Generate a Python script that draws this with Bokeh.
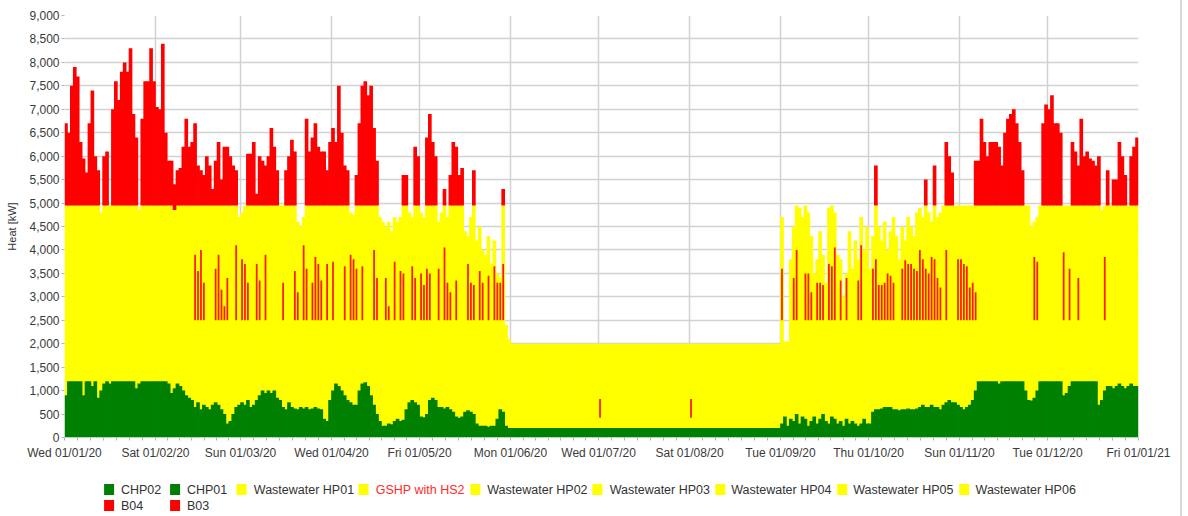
import numpy as np
import pandas as pd
from bokeh.plotting import figure
from bokeh.layouts import column
from bokeh.models import (ColumnDataSource, Range1d, FixedTicker, SingleIntervalTicker,
                          NumeralTickFormatter, DatetimeTickFormatter)
from bokeh.core.properties import value
from bokeh.embed import file_html
from bokeh.resources import INLINE

YEAR_START = "2020-01-01"
YEAR_END = "2021-01-01"

# ---- daily stacked levels (kW), one value per day of 2020 ----
# top of CHP02 + CHP01 (green)
chp_total = [
    900, 1200, 1200, 1200, 1200, 1200, 900, 1200, 1200, 1100, 1200, 850, 1000, 1150, 1200, 1150, 1200, 1200, 1200, 1200, 1200, 1200, 1200, 1200, 1050, 1150, 1200, 1200, 1200, 1200, 1200,
    1200, 1200, 1200, 1200, 1150, 950, 1050, 1150, 1100, 1000, 900, 850, 800, 650, 750, 600, 700, 650, 600, 700, 750, 700, 600, 500, 300, 350, 500, 650, 700,
    750, 700, 800, 650, 700, 800, 900, 1000, 950, 1000, 950, 1000, 850, 800, 650, 600, 750, 650, 620, 600, 650, 620, 650, 600, 620, 650, 620, 600, 400, 350, 800,
    1000, 1150, 1100, 1000, 900, 800, 750, 700, 700, 1000, 1150, 1180, 1100, 900, 700, 500, 350, 250, 250, 300, 280, 350, 400, 350, 380, 600, 750, 800, 750, 700,
    450, 430, 500, 800, 850, 800, 650, 650, 620, 650, 600, 550, 450, 420, 450, 550, 580, 550, 500, 300, 250, 250, 250, 230, 250, 250, 400, 600, 550, 250, 200,
    200, 200, 200, 200, 200, 200, 200, 200, 200, 200, 200, 200, 200, 200, 200, 200, 200, 200, 200, 200, 200, 200, 200, 200, 200, 200, 200, 200, 200, 200,
    200, 200, 200, 200, 200, 200, 200, 200, 200, 200, 200, 200, 200, 200, 200, 200, 200, 200, 200, 200, 200, 200, 200, 200, 200, 200, 200, 200, 200, 200, 200,
    200, 200, 200, 200, 200, 200, 200, 200, 200, 200, 200, 200, 200, 200, 200, 200, 200, 200, 200, 200, 200, 200, 200, 200, 200, 200, 200, 200, 200, 200, 200,
    300, 450, 250, 400, 350, 500, 300, 450, 400, 250, 350, 450, 300, 400, 500, 350, 300, 450, 400, 300, 350, 250, 400, 300, 350, 300, 250, 300, 400, 300,
    300, 550, 600, 600, 620, 650, 650, 650, 600, 600, 580, 600, 600, 620, 600, 600, 620, 650, 700, 650, 650, 700, 650, 650, 600, 700, 750, 800, 750, 750, 700,
    650, 600, 650, 700, 800, 1000, 1200, 1200, 1200, 1200, 1200, 1200, 1200, 1150, 1200, 1200, 1200, 1200, 1200, 1200, 1200, 1200, 1000, 800, 790, 850, 1000, 1200, 1200, 1200,
    1200, 1200, 1200, 1200, 1200, 900, 950, 1100, 1200, 1200, 1200, 1200, 1200, 1200, 1200, 1200, 1200, 700, 800, 1000, 1100, 1100, 1050, 1100, 1150, 1100, 1050, 1100, 1150, 1100, 1100,
]

# top of Wastewater HP01 (lower yellow band)
hp01_top = [
    2500, 2500, 2500, 2500, 2500, 2500, 2500, 2500, 2500, 2500, 2500, 2500, 2500, 2500, 2500, 2500, 2500, 2500, 2500, 2500, 2500, 2500, 2500, 2500, 2500, 2500, 2500, 2500, 2500, 2500, 2500,
    2500, 2500, 2500, 2500, 2500, 2500, 2500, 2500, 2500, 2500, 2500, 2500, 2500, 2500, 2500, 2500, 2500, 2500, 2500, 2500, 2500, 2500, 2500, 2500, 2500, 2500, 2500, 2500, 2500,
    2500, 2500, 2500, 2500, 2500, 2500, 2500, 2500, 2500, 2500, 2500, 2500, 2500, 2500, 2500, 2500, 2500, 2500, 2500, 2500, 2500, 2500, 2500, 2500, 2500, 2500, 2500, 2500, 2500, 2500, 2500,
    2500, 2500, 2500, 2500, 2500, 2500, 2500, 2500, 2500, 2500, 2500, 2500, 2500, 2500, 2500, 2500, 2500, 2500, 2500, 2500, 2500, 2500, 2500, 2500, 2500, 2500, 2500, 2500, 2500, 2500,
    2500, 2500, 2500, 2500, 2500, 2500, 2500, 2500, 2500, 2500, 2500, 2500, 2500, 2500, 2500, 2500, 2500, 2500, 2500, 2500, 2500, 2500, 2500, 2500, 2500, 2500, 2500, 2500, 2500, 2400, 2100,
    2000, 2000, 2000, 2000, 2000, 2000, 2000, 2000, 2000, 2000, 2000, 2000, 2000, 2000, 2000, 2000, 2000, 2000, 2000, 2000, 2000, 2000, 2000, 2000, 2000, 2000, 2000, 2000, 2000, 2000,
    420, 2000, 2000, 2000, 2000, 2000, 2000, 2000, 2000, 2000, 2000, 2000, 2000, 2000, 2000, 2000, 2000, 2000, 2000, 2000, 2000, 2000, 2000, 2000, 2000, 2000, 2000, 2000, 2000, 2000, 2000,
    420, 2000, 2000, 2000, 2000, 2000, 2000, 2000, 2000, 2000, 2000, 2000, 2000, 2000, 2000, 2000, 2000, 2000, 2000, 2000, 2000, 2000, 2000, 2000, 2000, 2000, 2000, 2000, 2000, 2000, 2000,
    2500, 2050, 2050, 2500, 2500, 2500, 2500, 2500, 2500, 2500, 2500, 2500, 2500, 2500, 2500, 2500, 2500, 2500, 2500, 2500, 2500, 2500, 2500, 2500, 2500, 2500, 2500, 2500, 2500, 2500,
    2500, 2500, 2500, 2500, 2500, 2500, 2500, 2500, 2500, 2500, 2500, 2500, 2500, 2500, 2500, 2500, 2500, 2500, 2500, 2500, 2500, 2500, 2500, 2500, 2500, 2500, 2500, 2500, 2500, 2500, 2500,
    2500, 2500, 2500, 2500, 2500, 2500, 2500, 2500, 2500, 2500, 2500, 2500, 2500, 2500, 2500, 2500, 2500, 2500, 2500, 2500, 2500, 2500, 2500, 2500, 2500, 2500, 2500, 2500, 2500, 2500,
    2500, 2500, 2500, 2500, 2500, 2500, 2500, 2500, 2500, 2500, 2500, 2500, 2500, 2500, 2500, 2500, 2500, 2500, 2500, 2500, 2500, 2500, 2500, 2500, 2500, 2500, 2500, 2500, 2500, 2500, 2500,
]

# top of GSHP with HS2 (red band inside the yellow); 0 = not running that day
gshp_top = [
    0, 0, 0, 0, 0, 0, 0, 0, 0, 0, 0, 0, 0, 0, 0, 0, 0, 0, 0, 0, 0, 0, 0, 0, 0, 0, 0, 0, 0, 0, 0,
    0, 0, 0, 0, 0, 0, 0, 0, 0, 0, 0, 0, 0, 3900, 3550, 4000, 3300, 0, 0, 0, 3600, 3900, 3150, 2800, 3400, 0, 0, 4100, 0,
    3800, 3700, 3300, 0, 0, 3700, 3350, 0, 3900, 0, 0, 0, 0, 0, 3300, 0, 0, 0, 3550, 3100, 0, 4100, 3600, 0, 3300, 3850, 3700, 3350, 0, 3700, 0,
    3750, 0, 0, 0, 3650, 0, 3900, 3800, 3600, 0, 3650, 0, 0, 0, 4000, 3400, 0, 0, 3400, 2800, 0, 3750, 0, 3550, 3500, 0, 0, 3650, 3400, 0,
    3500, 3250, 3600, 3500, 0, 0, 3600, 0, 4050, 3300, 3100, 0, 3350, 0, 0, 0, 3700, 3300, 3250, 0, 3550, 3300, 0, 3450, 0, 3650, 3300, 3300, 3700, 0, 0,
    0, 0, 0, 0, 0, 0, 0, 0, 0, 0, 0, 0, 0, 0, 0, 0, 0, 0, 0, 0, 0, 0, 0, 0, 0, 0, 0, 0, 0, 0,
    820, 0, 0, 0, 0, 0, 0, 0, 0, 0, 0, 0, 0, 0, 0, 0, 0, 0, 0, 0, 0, 0, 0, 0, 0, 0, 0, 0, 0, 0, 0,
    820, 0, 0, 0, 0, 0, 0, 0, 0, 0, 0, 0, 0, 0, 0, 0, 0, 0, 0, 0, 0, 0, 0, 0, 0, 0, 0, 0, 0, 0, 0,
    3600, 0, 0, 0, 3400, 4000, 0, 0, 3500, 3500, 3100, 0, 3300, 3300, 3250, 0, 3700, 3650, 4050, 0, 3350, 0, 3400, 0, 0, 0, 3350, 4100, 0, 0,
    0, 3600, 3800, 3250, 3250, 3300, 3500, 3450, 3300, 0, 0, 3600, 3780, 3700, 3700, 3600, 3550, 4000, 3800, 3600, 3500, 3850, 3800, 3400, 3200, 0, 4000, 0, 0, 0, 3800,
    3800, 3700, 3650, 3200, 3300, 3100, 0, 0, 0, 0, 0, 0, 0, 0, 0, 0, 0, 0, 0, 0, 0, 0, 0, 0, 0, 3850, 3750, 0, 0, 0,
    0, 0, 0, 0, 0, 3950, 0, 3600, 0, 0, 3400, 0, 0, 0, 0, 0, 0, 0, 0, 3850, 0, 0, 0, 0, 0, 0, 0, 0, 0, 0, 0,
]

# top of the whole heat-pump stack (HP02 ... HP06, upper yellow)
hp_top = [
    4950, 4950, 4950, 4950, 4950, 4950, 4950, 4950, 4950, 4950, 4950, 4950, 4800, 4950, 4950, 4950, 4950, 4950, 4950, 4950, 4950, 4950, 4950, 4950, 4950, 4850, 4950, 4950, 4950, 4950, 4950,
    4950, 4950, 4950, 4950, 4950, 4950, 4850, 4950, 4950, 4950, 4950, 4950, 4950, 4950, 4950, 4950, 4950, 4950, 4950, 4950, 4950, 4950, 4950, 4950, 4950, 4950, 4950, 4950, 4700,
    4800, 4950, 4950, 4950, 4950, 4950, 4950, 4950, 4950, 4950, 4950, 4950, 4950, 4950, 4950, 4950, 4950, 4950, 4950, 4600, 4500, 4700, 4950, 4950, 4950, 4950, 4950, 4950, 4950, 4950, 4950,
    4950, 4950, 4950, 4950, 4950, 4950, 4800, 4750, 4950, 4950, 4950, 4950, 4950, 4950, 4950, 4950, 4700, 4600, 4500, 4600, 4400, 4700, 4600, 4700, 4950, 4950, 4800, 4700, 4950, 4950,
    4800, 4700, 4950, 4950, 4950, 4950, 4600, 4800, 4950, 4700, 4950, 4950, 4950, 4950, 4950, 4400, 4300, 4700, 4950, 4200, 4500, 4000, 3900, 4300, 3700, 4200, 3500, 3400, 4950, 2400, 2100,
    2000, 2000, 2000, 2000, 2000, 2000, 2000, 2000, 2000, 2000, 2000, 2000, 2000, 2000, 2000, 2000, 2000, 2000, 2000, 2000, 2000, 2000, 2000, 2000, 2000, 2000, 2000, 2000, 2000, 2000,
    2000, 2000, 2000, 2000, 2000, 2000, 2000, 2000, 2000, 2000, 2000, 2000, 2000, 2000, 2000, 2000, 2000, 2000, 2000, 2000, 2000, 2000, 2000, 2000, 2000, 2000, 2000, 2000, 2000, 2000, 2000,
    2000, 2000, 2000, 2000, 2000, 2000, 2000, 2000, 2000, 2000, 2000, 2000, 2000, 2000, 2000, 2000, 2000, 2000, 2000, 2000, 2000, 2000, 2000, 2000, 2000, 2000, 2000, 2000, 2000, 2000, 2000,
    4700, 2050, 2050, 3800, 4500, 4950, 4900, 4700, 4950, 4800, 4300, 3500, 3800, 4400, 3900, 3300, 4900, 4950, 4800, 3900, 3800, 3000, 3500, 4400, 3600, 4200, 3800, 4700, 4000, 4500,
    3600, 4300, 4950, 4500, 4200, 4600, 4000, 4400, 4700, 4300, 3800, 4500, 4200, 4700, 4500, 4300, 4800, 4900, 4700, 4950, 4800, 4600, 4950, 4700, 4800, 4950, 4950, 4950, 4950, 4950, 4950,
    4950, 4950, 4950, 4950, 4950, 4950, 4950, 4950, 4950, 4950, 4950, 4950, 4950, 4950, 4950, 4950, 4950, 4950, 4950, 4950, 4950, 4950, 4950, 4950, 4500, 4600, 4700, 4950, 4950, 4950,
    4950, 4950, 4950, 4950, 4950, 4950, 4950, 4950, 4950, 4950, 4950, 4950, 4950, 4950, 4950, 4950, 4950, 4950, 4850, 4950, 4950, 4950, 4950, 4950, 4950, 4950, 4950, 4950, 4950, 4950, 4950,
]

# top of boilers B04 + B03 (red on top); 0 = boilers off that day
boiler_top = [
    6700, 6500, 7500, 7900, 7700, 6300, 5950, 5650, 6700, 7400, 6000, 5700, 0, 6000, 6100, 0, 7000, 7600, 7200, 7800, 8000, 7800, 8300, 6900, 6400, 0, 6800, 7600, 7600, 8300, 7600,
    7050, 7000, 8400, 6500, 5900, 5900, 5400, 5700, 5750, 6200, 6800, 6200, 6300, 6700, 5800, 5700, 5600, 6000, 5800, 5300, 5900, 6300, 5500, 6200, 6200, 6000, 5800, 5700, 0,
    0, 0, 6050, 6050, 6300, 5200, 6000, 5900, 5800, 6000, 6600, 6200, 5700, 0, 0, 5700, 6000, 6350, 6100, 0, 0, 0, 6800, 6100, 6400, 6700, 6200, 6100, 6100, 5700, 6300,
    6600, 6300, 7500, 6500, 5800, 5700, 0, 0, 5600, 6700, 7500, 7600, 7300, 7500, 6600, 5900, 0, 0, 0, 0, 0, 0, 0, 0, 5600, 5600, 0, 0, 6200, 6000,
    0, 0, 6400, 6900, 6300, 6000, 0, 0, 5300, 0, 5600, 6300, 6200, 5600, 5750, 0, 0, 0, 5700, 0, 0, 0, 0, 0, 0, 0, 0, 0, 5300, 0, 0,
    0, 0, 0, 0, 0, 0, 0, 0, 0, 0, 0, 0, 0, 0, 0, 0, 0, 0, 0, 0, 0, 0, 0, 0, 0, 0, 0, 0, 0, 0,
    0, 0, 0, 0, 0, 0, 0, 0, 0, 0, 0, 0, 0, 0, 0, 0, 0, 0, 0, 0, 0, 0, 0, 0, 0, 0, 0, 0, 0, 0, 0,
    0, 0, 0, 0, 0, 0, 0, 0, 0, 0, 0, 0, 0, 0, 0, 0, 0, 0, 0, 0, 0, 0, 0, 0, 0, 0, 0, 0, 0, 0, 0,
    0, 0, 0, 0, 0, 0, 0, 0, 0, 0, 0, 0, 0, 0, 0, 0, 0, 0, 0, 0, 0, 0, 0, 0, 0, 0, 0, 0, 0, 0,
    0, 0, 5800, 0, 0, 0, 0, 0, 0, 0, 0, 0, 0, 0, 0, 0, 0, 0, 0, 5500, 0, 0, 5800, 0, 0, 0, 6300, 6000, 5650, 0, 0,
    0, 0, 0, 0, 0, 5900, 5900, 6800, 6300, 6000, 6300, 6300, 6300, 6200, 5800, 6500, 6800, 6900, 7000, 6700, 6300, 5700, 0, 0, 0, 0, 0, 0, 6700, 7100,
    7000, 7300, 6700, 6700, 6500, 0, 0, 0, 6300, 6100, 5800, 6800, 6000, 6100, 5950, 5900, 5800, 6000, 0, 0, 5700, 0, 5500, 5500, 6300, 6000, 5600, 0, 6000, 6200, 6400,
]

# legend
legend_labels = ["CHP02", "CHP01", "Wastewater HP01", "GSHP with HS2", "Wastewater HP02",
                 "Wastewater HP03", "Wastewater HP04", "Wastewater HP05", "Wastewater HP06",
                 "B04", "B03"]
legend_colors = ["#008000", "#008000", "#ffff00", "#ffff00", "#ffff00",
                 "#ffff00", "#ffff00", "#ffff00", "#ffff00", "#ff0000", "#ff0000"]
legend_text_colors = ["#333333", "#333333", "#333333", "#ff2a2a", "#333333",
                      "#333333", "#333333", "#333333", "#333333", "#333333", "#333333"]

for arr in (chp_total, hp01_top, gshp_top, hp_top, boiler_top):
    assert len(arr) == 366, len(arr)

dates = pd.date_range(YEAR_START, periods=366, freq="D")
G = np.array(chp_total, dtype=float)
H1 = np.maximum(np.array(hp01_top, dtype=float), G)
R = np.maximum(np.array(gshp_top, dtype=float), H1)
Y = np.maximum(np.array(hp_top, dtype=float), R)
T = np.maximum(np.array(boiler_top, dtype=float), Y)

src = ColumnDataSource(dict(
    x=(dates + pd.Timedelta(hours=12)).to_numpy(),
    zero=np.zeros(366), g=G, h1=H1, r=R, y=Y, t=T,
))

DAY_MS = 86400000
W = DAY_MS * 1.25

p = figure(width=1180, height=466, x_axis_type="datetime",
           x_range=Range1d(pd.Timestamp(YEAR_START), pd.Timestamp(YEAR_END)),
           y_range=Range1d(0, 9000),
           output_backend="svg", toolbar_location=None,
           min_border_left=64, min_border_right=42, min_border_top=15, min_border_bottom=29)

p.vbar(x="x", width=W, bottom="g", top="y", source=src, fill_color="#ffff00", line_color=None)
p.vbar(x="x", width=W, bottom="zero", top="g", source=src, fill_color="#008000", line_color=None)
p.vbar(x="x", width=DAY_MS * 0.6, bottom="h1", top="r", source=src, fill_color="#ff0000",
       fill_alpha=0.9, line_color=None)
p.vbar(x="x", width=W, bottom="y", top="t", source=src, fill_color="#ff0000", line_color=None)

# axes / ticks
month_starts = pd.date_range(YEAR_START, YEAR_END, freq="MS")
major = [float(ts.value // 10**6) for ts in month_starts]
minor = []
for a, b in zip(major[:-1], major[1:]):
    minor += [float(v) for v in np.linspace(a, b, 8)[1:-1]]

fmt = "%a %d/%m/%y"
p.xaxis.ticker = FixedTicker(ticks=major, minor_ticks=minor)
p.xgrid.ticker = FixedTicker(ticks=major)
p.xaxis.formatter = DatetimeTickFormatter(days=fmt, months=fmt, years=fmt)
p.yaxis.ticker = SingleIntervalTicker(interval=500, num_minor_ticks=0)
p.ygrid.ticker = SingleIntervalTicker(interval=500, num_minor_ticks=0)
p.yaxis.formatter = NumeralTickFormatter(format="0,0")

for ax in (p.xaxis[0], p.yaxis[0]):
    ax.axis_line_color = None
    ax.major_tick_line_color = "#b5b5b5"
    ax.major_tick_in = 0
    ax.minor_tick_in = 0
    ax.major_label_text_font = "Liberation Sans"
    ax.major_label_text_font_size = "12px"
    ax.major_label_text_color = "#3a3a3a"

p.xaxis.major_tick_out = 3
p.xaxis.minor_tick_out = 3
p.xaxis.minor_tick_line_color = "#b5b5b5"
p.xaxis.major_label_standoff = 5
p.yaxis.major_tick_out = 3
p.yaxis.minor_tick_line_color = None
p.yaxis.major_label_standoff = 2
p.yaxis.axis_label = "Heat [kW]"
p.yaxis.axis_label_text_font = "Liberation Sans"
p.yaxis.axis_label_text_font_size = "11px"
p.yaxis.axis_label_text_font_style = "normal"
p.yaxis.axis_label_text_color = "#333333"
p.yaxis.axis_label_standoff = 8

p.grid.grid_line_color = "#d2d2d2"
p.grid.grid_line_width = 1.5
p.outline_line_color = None
p.background_fill_color = "white"
p.border_fill_color = "white"

# legend panel (custom so that one label can be red)
legend_sq_x = [49, 121.5, 194.5, 328.5, 451.5, 585.5, 720.5, 854.5, 988.5, 49, 121.5]
legend_tx_x = [62, 134.5, 208, 342, 464.5, 599, 732.5, 866.5, 1001, 62, 134.5]
legend_row_y = [489] * 9 + [505] * 2

leg = figure(width=1180, height=50, x_range=Range1d(0, 1180), y_range=Range1d(516, 466),
             output_backend="svg", toolbar_location=None, min_border=0,
             x_axis_type=None, y_axis_type=None)
leg.outline_line_color = None
leg.grid.visible = False
lsrc = ColumnDataSource(dict(sx=legend_sq_x, tx=legend_tx_x, y=legend_row_y,
                             label=legend_labels, fc=legend_colors, tc=legend_text_colors))
leg.rect(x="sx", y="y", width=11, height=11, source=lsrc, fill_color="fc", line_color=None)
leg.text(x="tx", y="y", text="label", source=lsrc, text_color="tc",
         text_font=value("Liberation Sans"), text_font_size="12.5px",
         text_baseline="middle", text_align="left")

layout = column(p, leg, styles={"border-right": "2px solid #d8d8d8"})

with open("out.html", "w") as f:
    f.write(file_html(layout, INLINE))
